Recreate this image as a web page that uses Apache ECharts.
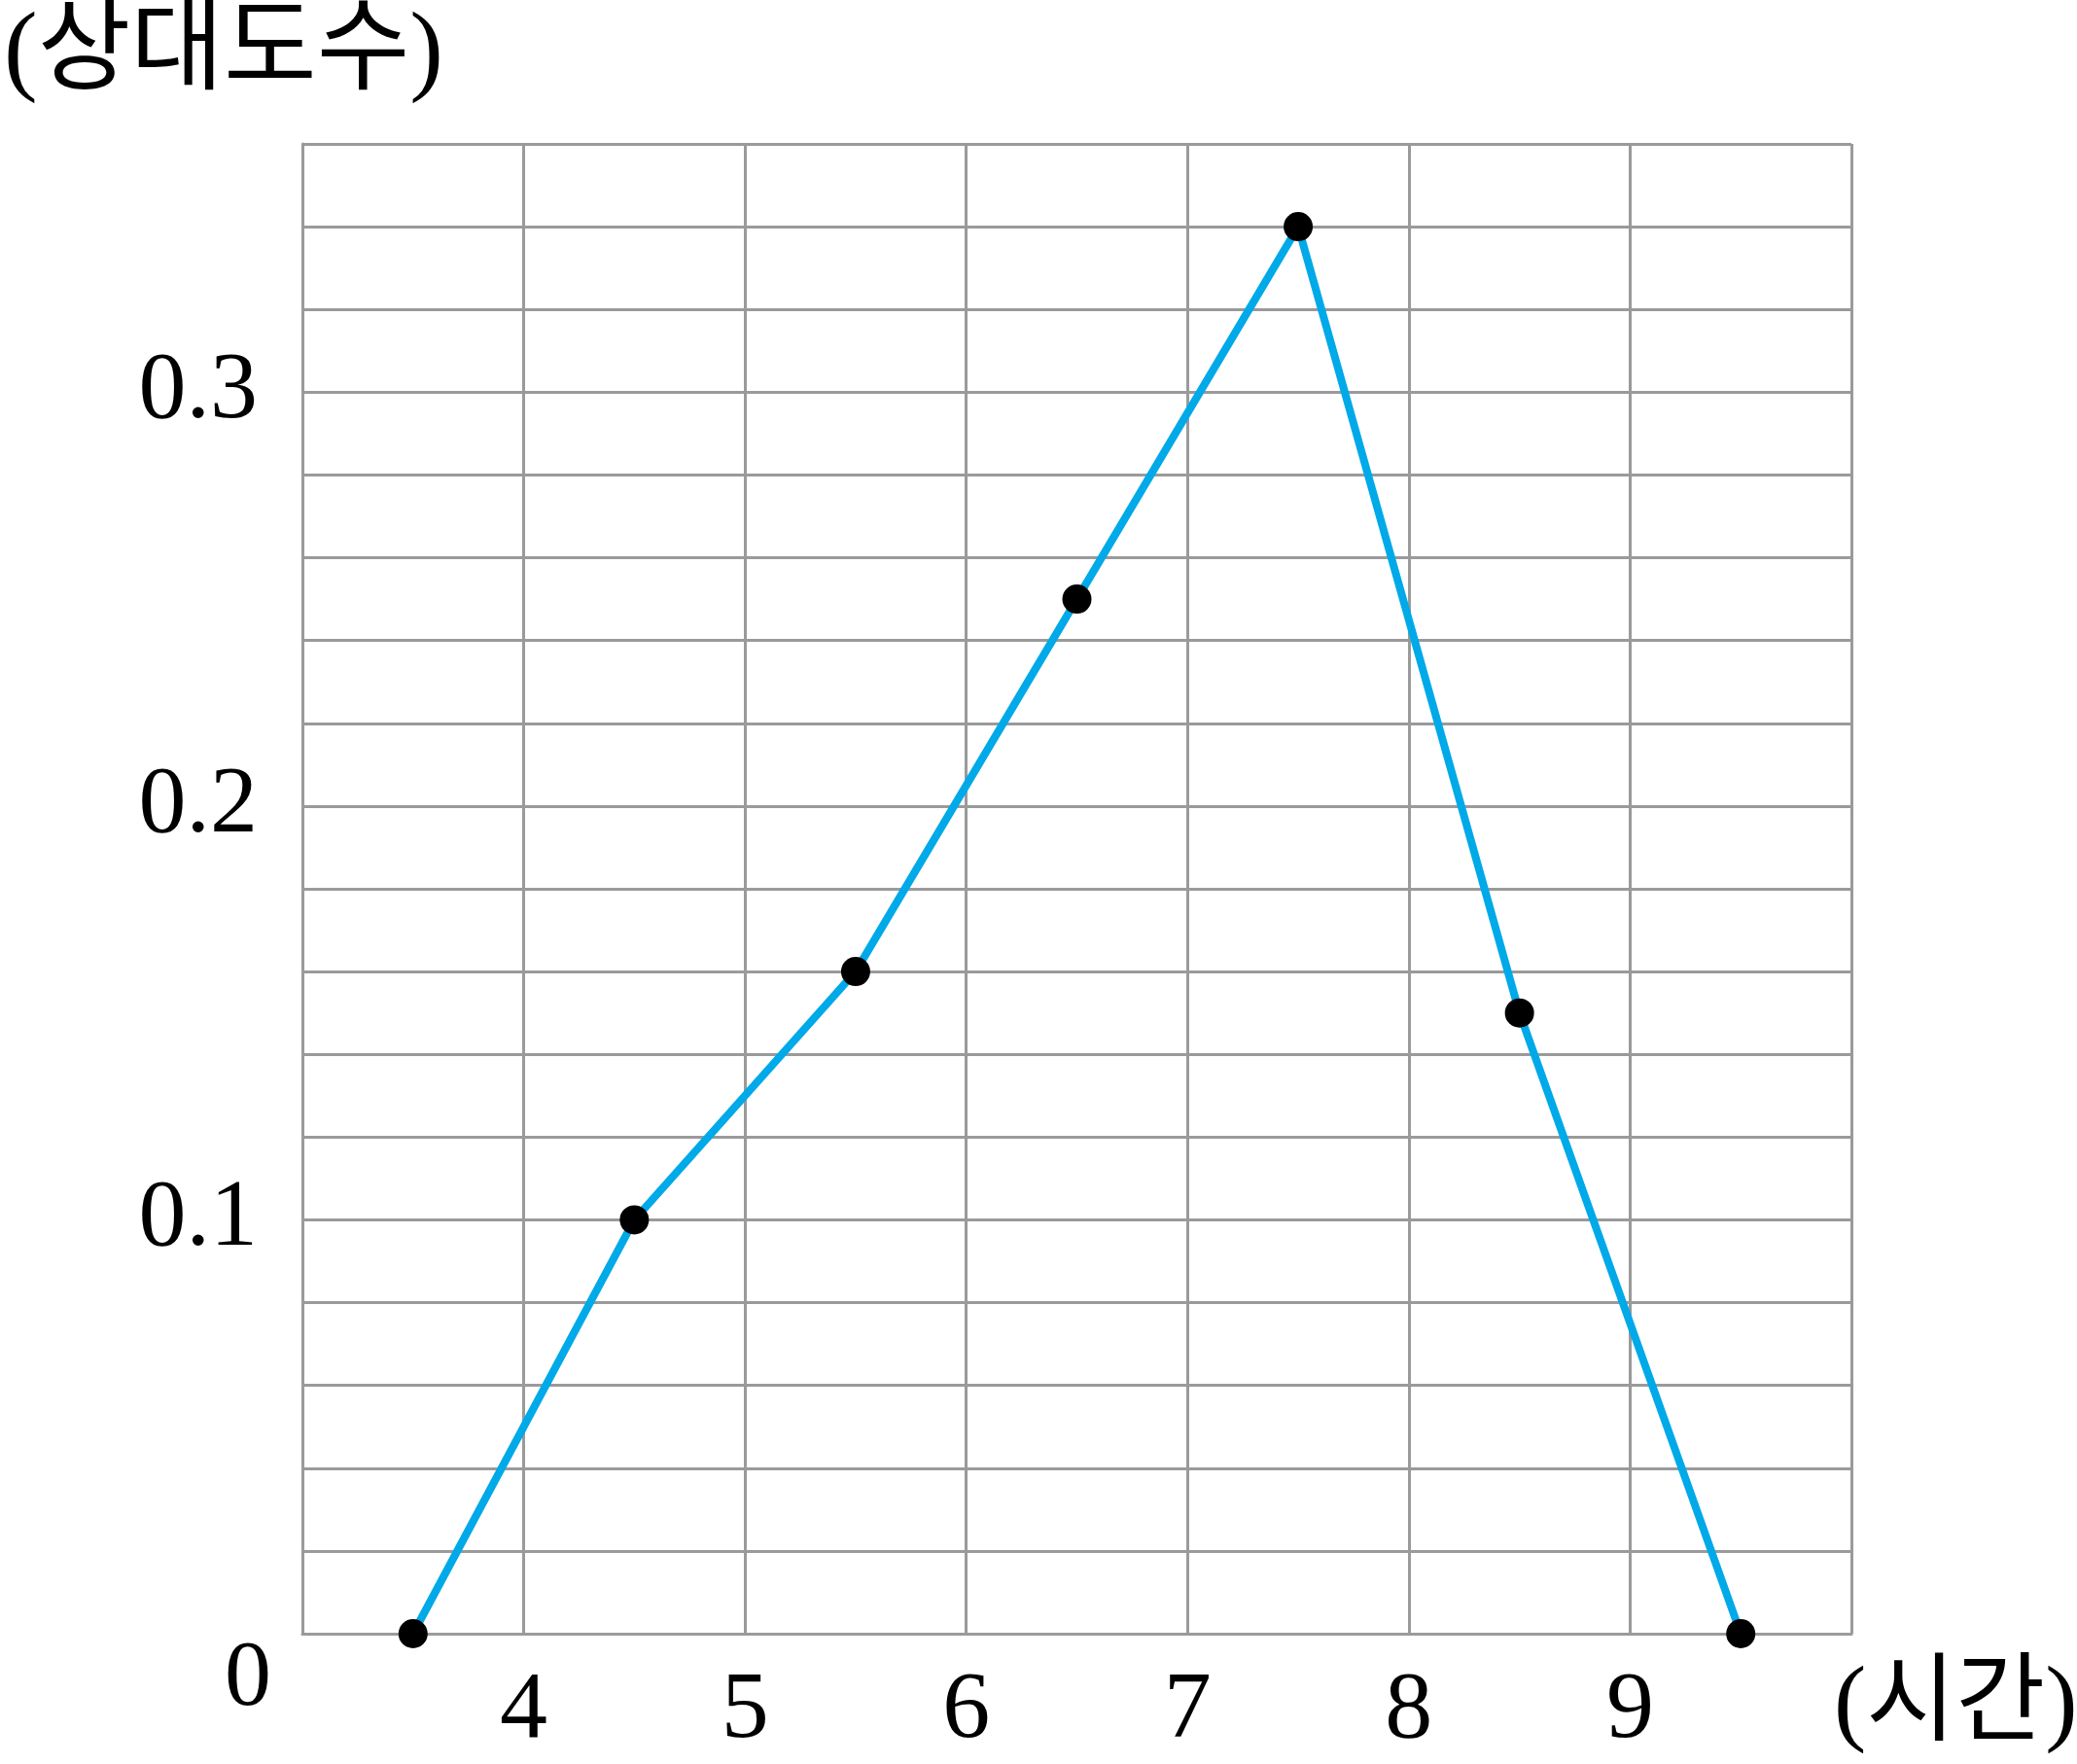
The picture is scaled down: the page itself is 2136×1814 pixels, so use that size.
<!DOCTYPE html>
<html>
<head>
<meta charset="utf-8">
<script src="https://cdn.jsdelivr.net/npm/echarts@6/dist/echarts.min.js"></script>
<style>
html,body{margin:0;padding:0;background:#fff;}
#chart{width:2136px;height:1814px;}
</style>
</head>
<body>
<div id="chart"></div>
<script>
// Data
const classMarks = [3.5, 4.5, 5.5, 6.5, 7.5, 8.5, 9.5];
const relFreq = [0, 0.10, 0.16, 0.25, 0.34, 0.15, 0];
const xTickLabels = ['4', '5', '6', '7', '8', '9'];
const yTickLabels = ['0.1', '0.2', '0.3'];
const yAxisTitle = '(상대도수)';
const xAxisTitle = '(시간)';
const originLabel = '0';

const FONT = '"Liberation Serif", "Noto Sans CJK KR", serif';
const GRID_COLOR = '#9a9a9b';

const chart = echarts.init(document.getElementById('chart'));
const option = {
  backgroundColor: '#fff',
  animation: false,
  title: {
    text: yAxisTitle,
    left: 4,
    top: 5,
    padding: 0,
    textStyle: { fontFamily: FONT, fontSize: 104, fontWeight: 'normal', color: '#000' }
  },
  grid: { left: 311, right: 232, top: 148, bottom: 134, containLabel: false, outerBoundsMode: 'none' },
  xAxis: {
    type: 'value',
    min: 3, max: 10, interval: 1,
    axisLine: { show: true, lineStyle: { color: GRID_COLOR, width: 3 } },
    axisTick: { show: false },
    splitLine: { show: true, lineStyle: { color: GRID_COLOR, width: 3 } },
    axisLabel: {
      margin: 31,
      fontFamily: FONT, fontSize: 98, color: '#000',
      formatter: function (v) {
        const s = String(Math.round(v));
        return xTickLabels.indexOf(s) >= 0 ? s : '';
      }
    },
    name: xAxisTitle,
    nameLocation: 'end',
    nameGap: -18,
    nameTextStyle: {
      fontFamily: FONT, fontSize: 100, color: '#000',
      align: 'left', verticalAlign: 'top', padding: [26, 0, 0, 0]
    }
  },
  yAxis: {
    type: 'value',
    min: 0, max: 0.36, interval: 0.02,
    axisLine: { show: true, lineStyle: { color: GRID_COLOR, width: 3 } },
    axisTick: { show: false },
    splitLine: { show: true, lineStyle: { color: GRID_COLOR, width: 3 } },
    axisLabel: {
      margin: 46,
      fontFamily: FONT, fontSize: 98, color: '#000',
      padding: [0, 0, 16, 0],
      formatter: function (v) {
        const s = (Math.round(v * 100) / 100).toString();
        return yTickLabels.indexOf(s) >= 0 ? s : '';
      }
    }
  },
  series: [{
    type: 'line',
    data: classMarks.map((x, i) => [x, relFreq[i]]),
    symbol: 'circle',
    symbolSize: 30,
    itemStyle: { color: '#000' },
    lineStyle: { color: '#00a9e8', width: 8 },
    z: 5
  }]
};
chart.setOption(option);

const origin = chart.convertToPixel({ gridIndex: 0 }, [3, 0]);
chart.setOption({
  graphic: [{
    type: 'text',
    x: origin[0] - 56,
    y: origin[1] + 48,
    style: {
      text: originLabel,
      font: '96px ' + FONT,
      fill: '#000',
      textAlign: 'center',
      textVerticalAlign: 'middle'
    }
  }]
});
</script>
</body>
</html>
